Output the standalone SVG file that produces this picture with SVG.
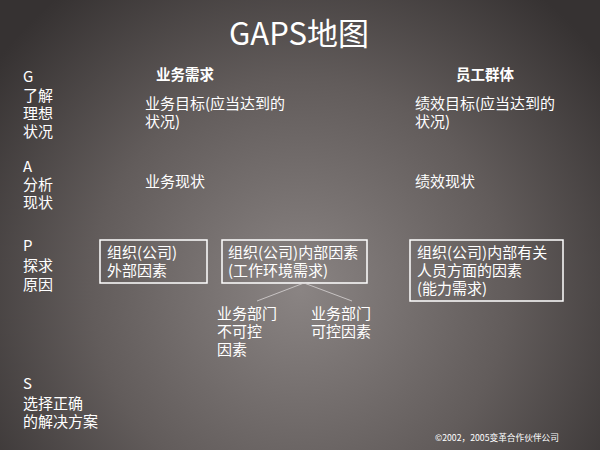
<svg xmlns="http://www.w3.org/2000/svg" width="600" height="450" viewBox="0 0 600 450">
<defs>
<radialGradient id="bg" cx="300" cy="290" r="380" gradientUnits="userSpaceOnUse">
<stop offset="0" stop-color="#8a8483"/>
<stop offset="0.55" stop-color="#625c5b"/>
<stop offset="1" stop-color="#363232"/>
</radialGradient>
<style>
text{font-family:"Noto Sans CJK SC","Noto Sans",sans-serif;fill:#ffffff;font-size:15px}
.title{font-size:31px;text-anchor:middle}
.hd{font-weight:bold;font-size:14.5px;text-anchor:middle}
.small{font-size:8.7px}
.box{fill:none;stroke:#ffffff;stroke-width:1.5}
.conn{stroke:#d8d4d4;stroke-width:0.8;fill:none}
</style>
</defs>
<rect width="600" height="450" fill="url(#bg)"/>
<text class="title" x="299" y="45">GAPS地图</text>
<g id="labels">
<text x="23" y="82">G</text>
<text x="23" y="101">了解</text>
<text x="23" y="119">理想</text>
<text x="23" y="137">状况</text>
<text x="23" y="172">A</text>
<text x="23" y="190">分析</text>
<text x="23" y="208">现状</text>
<text x="23" y="251">P</text>
<text x="23" y="271">探求</text>
<text x="23" y="290">原因</text>
<text x="23" y="389">S</text>
<text x="23" y="409">选择正确</text>
<text x="23" y="427">的解决方案</text>
</g>
<g id="headers">
<text class="hd" x="185" y="80">业务需求</text>
<text class="hd" x="485" y="80">员工群体</text>
</g>
<g id="goal-business"><text x="145" y="109">业务目标(应当达到的</text><text x="145" y="127">状况)</text></g>
<g id="goal-people"><text x="415" y="109">绩效目标(应当达到的</text><text x="415" y="127">状况)</text></g>
<g id="current-business"><text x="145" y="187">业务现状</text></g>
<g id="current-people"><text x="415" y="187">绩效现状</text></g>
<g id="external">
<rect class="box" x="100" y="240" width="107" height="43"/>
<text x="107" y="258">组织(公司)</text>
<text x="107" y="276">外部因素</text>
</g>
<g id="internal">
<rect class="box" x="222" y="240" width="145" height="43"/>
<text x="228" y="258">组织(公司)内部因素</text>
<text x="228" y="276">(工作环境需求)</text>
</g>
<g id="people-factors">
<rect class="box" x="410" y="240" width="153" height="61"/>
<text x="417" y="258">组织(公司)内部有关</text>
<text x="417" y="276">人员方面的因素</text>
<text x="417" y="294">(能力需求)</text>
</g>
<g id="uncontrollable">
<text x="217" y="319">业务部门</text>
<text x="217" y="337">不可控</text>
<text x="217" y="355">因素</text>
</g>
<g id="controllable">
<text x="311" y="319">业务部门</text>
<text x="311" y="337">可控因素</text>
</g>
<g id="connectors">
<path class="conn" d="M304 283 L257 301 M304 283 L352 301"/>
</g>
<text class="small" x="435" y="441">©2002，2005变革合作伙伴公司</text>
</svg>
